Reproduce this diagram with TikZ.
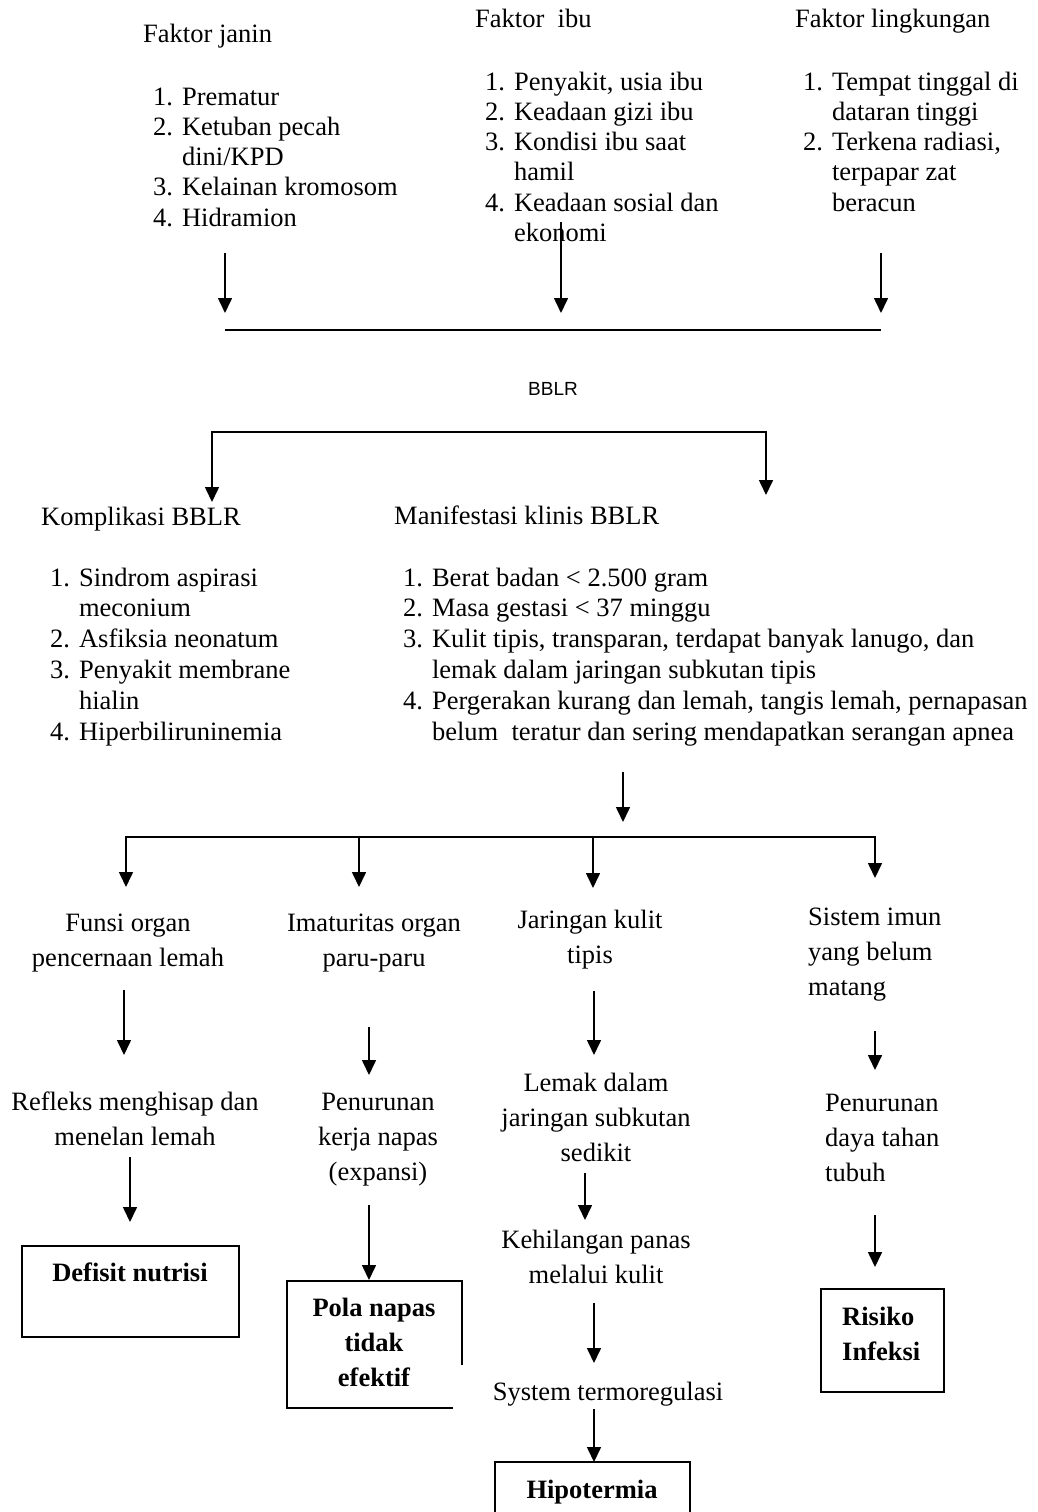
\documentclass[tikz,border=0pt]{standalone}
\usepackage{fontspec}
\setmainfont{Liberation Serif}
\newfontfamily\bblrfont{Liberation Sans}
\usetikzlibrary{arrows.meta}
\tikzset{
  arr/.style={line width=1.6pt, -{Triangle[width=14pt,length=15pt]}},
  darr/.style={line width=1.6pt, {Triangle[width=14pt,length=15pt]}-{Triangle[width=14pt,length=15pt]}},
  ln/.style={line width=1.6pt},
  boxline/.style={line width=1.6pt},
  txt/.style={inner sep=0pt, font=\fontsize{26.5}{35}\selectfont},
  ctxt/.style={txt, align=center, anchor=base},
  ltxt/.style={txt, align=left, anchor=base west},
  hdr/.style={txt, anchor=base west},
  toplist/.style={inner sep=0pt, anchor=base west, font=\fontsize{26.5}{30.3}\selectfont},
  midlist/.style={inner sep=0pt, anchor=base west, font=\fontsize{26.5}{30.8}\selectfont},
  btxt/.style={inner sep=0pt, font=\fontsize{26.5}{35}\selectfont\bfseries},
}
\newcommand{\numlist}[1]{\begin{tabular}[t]{@{}l@{\hspace{9pt}}l@{}}#1\end{tabular}}
\begin{document}
\begin{tikzpicture}[x=1pt,y=-1pt]
\useasboundingbox (0,0) rectangle (1038,1512);

% ---------- top factors ----------
\node[hdr] (fj) at (143,43) {Faktor janin};
\node[hdr] (fi) at (475,28) {Faktor\ \ ibu};
\node[hdr] (fl) at (795,28) {Faktor lingkungan};

\node[toplist] (lj) at (153,105) {\numlist{1. & Prematur\\ 2. & Ketuban pecah\\ & dini/KPD\\ 3. & Kelainan kromosom\\ 4. & Hidramion}};
\node[toplist] (li) at (485,90) {\numlist{1. & Penyakit, usia ibu\\ 2. & Keadaan gizi ibu\\ 3. & Kondisi ibu saat\\ & hamil\\ 4. & Keadaan sosial dan\\ & ekonomi}};
\node[toplist] (ll) at (803,90) {\numlist{1. & Tempat tinggal di\\ & dataran tinggi\\ 2. & Terkena radiasi,\\ & terpapar zat\\ & beracun}};

\coordinate (a1s) at (225,253); \coordinate (a1e) at (225,313);
\coordinate (a2s) at (561,222); \coordinate (a2e) at (561,313);
\coordinate (a3s) at (881,253); \coordinate (a3e) at (881,313);
\draw[arr] (a1s) -- (a1e);
\draw[arr] (a2s) -- (a2e);
\draw[arr] (a3s) -- (a3e);
\coordinate (hl) at (225,330); \coordinate (hr) at (881,330);
\draw[line width=2.2pt] (hl) -- (hr);

\node[inner sep=0pt, anchor=base, font=\bblrfont\fontsize{19}{22}\selectfont] (bblr) at (553,395) {BBLR};

% ---------- bracket ----------
\coordinate (bLe) at (212,502); \coordinate (bL) at (212,432);
\coordinate (bR) at (766,432); \coordinate (bRe) at (766,495);
\draw[darr] (bLe) -- (bL) -- (bR) -- (bRe);

\node[hdr] (kh) at (41,525) {Komplikasi BBLR};
\node[hdr] (mh) at (394,524) {Manifestasi klinis BBLR};

\node[midlist] (kl) at (50,586) {\numlist{1. & Sindrom aspirasi\\ & meconium\\ 2. & Asfiksia neonatum\\ 3. & Penyakit membrane\\ & hialin\\ 4. & Hiperbiliruninemia}};
\node[midlist] (ml) at (403,586) {\numlist{1. & Berat badan < 2.500 gram\\ 2. & Masa gestasi < 37 minggu\\ 3. & Kulit tipis, transparan, terdapat banyak lanugo, dan\\ & lemak dalam jaringan subkutan tipis\\ 4. & Pergerakan kurang dan lemah, tangis lemah, pernapasan\\ & belum\ \ teratur dan sering mendapatkan serangan apnea}};

\coordinate (ms) at (623,772); \coordinate (me) at (623,822);
\draw[arr] (ms) -- (me);

% ---------- distribution line ----------
\coordinate (d1) at (126,837); \coordinate (d1e) at (126,887);
\coordinate (d2) at (359,837); \coordinate (d2e) at (359,887);
\coordinate (d3) at (593,837); \coordinate (d3e) at (593,888);
\coordinate (d4) at (875,837); \coordinate (d4e) at (875,878);
\draw[darr] (d1e) -- (d1) -- (d4) -- (d4e);
\draw[arr] (d2) -- (d2e);
\draw[arr] (d3) -- (d3e);

% ---------- column texts (base = baseline of last line) ----------
\node[ctxt] (c1a) at (128,966) {Funsi organ\\pencernaan lemah};
\node[ctxt] (c2a) at (374,966) {Imaturitas organ\\paru-paru};
\node[ctxt] (c3a) at (590,963) {Jaringan kulit\\tipis};
\node[ltxt] (c4a) at (808,995) {Sistem imun\\yang belum\\matang};

\coordinate (e1s) at (124,990); \coordinate (e1e) at (124,1055);
\coordinate (e2s) at (369,1027); \coordinate (e2e) at (369,1075);
\coordinate (e3s) at (594,991); \coordinate (e3e) at (594,1055);
\coordinate (e4s) at (875,1031); \coordinate (e4e) at (875,1070);
\draw[arr] (e1s) -- (e1e);
\draw[arr] (e2s) -- (e2e);
\draw[arr] (e3s) -- (e3e);
\draw[arr] (e4s) -- (e4e);

\node[ctxt] (c1b) at (135,1145) {Refleks menghisap dan\\menelan lemah};
\node[ctxt] (c2b) at (378,1180) {Penurunan\\kerja napas\\(expansi)};
\node[ctxt] (c3b) at (596,1161) {Lemak dalam\\jaringan subkutan\\sedikit};
\node[ltxt] (c4b) at (825,1181) {Penurunan\\daya tahan\\tubuh};

\coordinate (f1s) at (130,1157); \coordinate (f1e) at (130,1222);
\coordinate (f2s) at (369,1205); \coordinate (f2e) at (369,1280);
\coordinate (f3s) at (585,1173); \coordinate (f3e) at (585,1220);
\coordinate (f4s) at (875,1215); \coordinate (f4e) at (875,1267);
\draw[arr] (f1s) -- (f1e);
\draw[arr] (f2s) -- (f2e);
\draw[arr] (f3s) -- (f3e);
\draw[arr] (f4s) -- (f4e);

\node[ctxt] (c3c) at (596,1283) {Kehilangan panas\\melalui kulit};
\coordinate (g3s) at (594,1303); \coordinate (g3e) at (594,1363);
\draw[arr] (g3s) -- (g3e);
\node[txt, anchor=base] (c3d) at (608,1400) {System termoregulasi};
\coordinate (h3s) at (594,1409); \coordinate (h3e) at (594,1462);
\draw[arr] (h3s) -- (h3e);

% ---------- outcome boxes ----------
\draw[boxline] (22,1246) rectangle (239,1337);
\node[btxt, anchor=base] (dn) at (130,1281) {Defisit nutrisi};

\coordinate (p1) at (462,1365); \coordinate (p2) at (462,1281);
\coordinate (p3) at (287,1281); \coordinate (p4) at (287,1408);
\coordinate (p5) at (453,1408);
\draw[boxline] (p1) -- (p2) -- (p3) -- (p4) -- (p5);
\node[btxt, anchor=base, align=center] (pn) at (374,1386) {Pola napas\\tidak\\efektif};

\draw[boxline] (821,1289) rectangle (944,1392);
\node[btxt, anchor=base west, align=left] (ri) at (842,1360) {Risiko\\Infeksi};

\coordinate (q1) at (495,1516); \coordinate (q2) at (495,1462);
\coordinate (q3) at (690,1462); \coordinate (q4) at (690,1516);
\draw[boxline] (q1) -- (q2) -- (q3) -- (q4);
\node[btxt, anchor=base] (hp) at (592,1498) {Hipotermia};
\end{tikzpicture}
\end{document}
